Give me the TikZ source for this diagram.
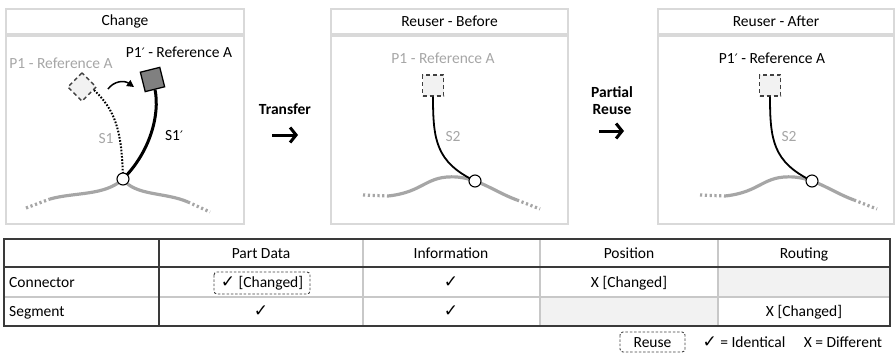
\documentclass[tikz,border=0pt]{standalone}
\usepackage{fontspec}
\setmainfont{Carlito}
\newfontfamily\symf{DejaVu Sans}
\usetikzlibrary{arrows.meta,calc}
\definecolor{pborder}{HTML}{D9D9D9}
\definecolor{gtext}{HTML}{A6A6A6}
\definecolor{roadc}{HTML}{A6A6A6}
\definecolor{lfill}{HTML}{F2F2F2}
\definecolor{dfill}{HTML}{808080}
\definecolor{tline}{HTML}{3A3A3A}
\definecolor{tin}{HTML}{C8C8C8}
\newcommand{\ckm}{{\symf\fontsize{17}{18}\selectfont ✓}}
\newcommand{\prm}{{\symf\fontsize{13}{15}\selectfont ′}}
\begin{document}
\begin{tikzpicture}[x=1pt,y=-1pt,font=\fontsize{15.5}{18}\selectfont,
  titlebox/.style={draw=pborder,line width=2pt,anchor=north west,inner sep=0pt,minimum height=25pt},
  bodybox/.style={draw=pborder,line width=2pt,anchor=north west,inner sep=0pt,minimum height=188pt},
  graytxt/.style={text=gtext,inner sep=0pt},
  blacktxt/.style={text=black,inner sep=0pt},
  roadline/.style={draw=roadc,line width=3.2pt},
  roaddots/.style={draw=roadc,line width=3.2pt,dash pattern=on 2.2pt off 2.6pt},
  oldpart/.style={draw=black!75,fill=lfill,line width=1.3pt,dash pattern=on 4pt off 3pt,minimum size=20pt,inner sep=0pt},
  newpart/.style={draw=black,fill=dfill,line width=1.3pt,minimum size=20pt,inner sep=0pt},
  junction/.style={circle,draw=black,fill=white,line width=1.1pt,minimum size=12pt,inner sep=0pt},
  wire/.style={draw=black,line width=1.8pt},
  bigarrow/.style={draw=black,line width=3pt,-{Straight Barb[length=6pt,width=15pt]}},
  cell/.style={inner sep=0pt,anchor=center},
  reusebox/.style={draw=black!75,line width=0.9pt,dash pattern=on 2.5pt off 1.8pt,rounded corners=3pt}
]
\useasboundingbox (0,0) rectangle (896,354);

% ---------------- Panel 1: Change ----------------
\node[titlebox,minimum width=238pt] (t1) at (5,8) {Change};
\node[bodybox,minimum width=238pt] (b1) at (t1.south west) {};

\coordinate (r1a) at (26,208);
\coordinate (r1b) at (50,199);
\coordinate (j1) at (123,179);
\coordinate (r1c) at (188,202);
\coordinate (r1d) at (210,212);
\draw[roaddots] (r1a) -- (r1b);
\draw[roadline] (r1b) .. controls (75,192) and (105,196) .. (j1) .. controls (135,196) and (165,192) .. (r1c);
\draw[roaddots] (r1c) -- (r1d);

\node[oldpart,rotate=45] (op1) at (82,87) {};
\node[newpart,rotate=14] (np1) at (152.5,79.5) {};

\draw[black,line width=2pt,dash pattern=on 1.6pt off 1.6pt] ($(op1.south)!0.6!(op1.south east)$) .. controls (115,110) and (122,130) .. (j1);
\draw[black,line width=3pt] (np1.south) .. controls (160,115) and (150,152) .. (j1);
\coordinate (ah) at (134,87);
\draw[black,line width=1.5pt,-{Triangle[length=7pt,width=7pt]}] (108,89) .. controls (114,81) and (124,80) .. (ah);

\node[junction] (c1) at (j1) {};

\node[graytxt] (l1a) at (61,63) {P1 - Reference A};
\node[blacktxt] (l1b) at (179,52) {P1\prm\ - Reference A};
\node[graytxt] (s1) at (106,139) {S1};
\node[blacktxt] (s1p) at (174,136) {S1\prm};

% ---------------- Transfer ----------------
\node[inner sep=0pt,font=\fontsize{15.5}{18}\selectfont\bfseries] (tr) at (285,109) {Transfer};
\coordinate (ta1) at (272,135);
\coordinate (ta2) at (298,135);
\draw[bigarrow] (ta1) -- (ta2);

% ---------------- Panel 2: Reuser - Before ----------------
\node[titlebox,minimum width=237pt] (t2) at (330,8) {Reuser - Before};
\node[bodybox,minimum width=237pt] (b2) at (t2.south west) {};

\coordinate (r2a) at (363,195);
\coordinate (r2b) at (388,196);
\coordinate (j2) at (475,181);
\coordinate (r2c) at (517,200);
\coordinate (r2d) at (540,209);
\draw[roaddots] (r2a) -- (r2b);
\draw[roadline] (r2b) .. controls (425,192) and (425,175) .. (457,177) .. controls (480,179) and (495,192) .. (r2c);
\draw[roaddots] (r2c) -- (r2d);

\node[oldpart,minimum size=21pt] (op2) at (433,85.5) {};
\draw[wire] (op2.south) .. controls (433,140) and (436,162) .. (j2);
\node[junction] (c2) at (j2) {};

\node[graytxt] (l2a) at (443,58) {P1 - Reference A};
\node[graytxt] (s2a) at (453,137) {S2};

% ---------------- Partial Reuse ----------------
\node[inner sep=0pt,font=\fontsize{15.5}{18}\selectfont\bfseries,align=center] (pr) at (612,101) {Partial\\[-1pt]Reuse};
\coordinate (pa1) at (599,131);
\coordinate (pa2) at (624,131);
\draw[bigarrow] (pa1) -- (pa2);

% ---------------- Panel 3: Reuser - After ----------------
\node[titlebox,minimum width=236pt] (t3) at (657,8) {Reuser - After};
\node[bodybox,minimum width=236pt] (b3) at (t3.south west) {};

\coordinate (r3a) at (700,195);
\coordinate (r3b) at (725,196);
\coordinate (j3) at (812,181);
\coordinate (r3c) at (854,200);
\coordinate (r3d) at (877,209);
\draw[roaddots] (r3a) -- (r3b);
\draw[roadline] (r3b) .. controls (762,192) and (762,175) .. (794,177) .. controls (817,179) and (832,192) .. (r3c);
\draw[roaddots] (r3c) -- (r3d);

\node[oldpart,minimum size=21pt] (op3) at (770,85.5) {};
\draw[wire] (op3.south) .. controls (770,140) and (773,162) .. (j3);
\node[junction] (c3) at (j3) {};

\node[blacktxt] (l3a) at (772,58) {P1\prm\ - Reference A};
\node[graytxt] (s3a) at (789,137) {S2};

% ---------------- Table ----------------
\fill[lfill] (718,267) rectangle (890,297);
\fill[lfill] (540,297) rectangle (718,326);
\draw[tin,line width=1.2pt] (4,297) -- (890,297);
\draw[tin,line width=1.2pt] (363,239) -- (363,326);
\draw[tin,line width=1.2pt] (540,239) -- (540,326);
\draw[tin,line width=1.2pt] (718,239) -- (718,326);
\draw[tline,line width=1.4pt] (4,267) -- (890,267);
\draw[tline,line width=1.4pt] (159,239) -- (159,326);
\draw[tline,line width=1.4pt] (4,239) rectangle (890,326);

\node[cell,anchor=base] (h1) at (261,258) {Part Data};
\node[cell,anchor=base] (h2) at (451,258) {Information};
\node[cell,anchor=base] (h3) at (629,258) {Position};
\node[cell,anchor=base] (h4) at (804,258) {Routing};

\node[cell,anchor=base west] (rc) at (9,287) {Connector};
\node[cell,anchor=base west] (rs) at (9,316) {Segment};

\draw[reusebox] (214,272) rectangle (310,294);
\node[cell,anchor=base] (c11) at (262,287) {\ckm\ [Changed]};
\node[cell,anchor=base] (c12) at (451,287) {\ckm};
\node[cell,anchor=base] (c13) at (629,287) {X [Changed]};
\node[cell,anchor=base] (c21) at (261,316) {\ckm};
\node[cell,anchor=base] (c22) at (451,316) {\ckm};
\node[cell,anchor=base] (c24) at (804,316) {X [Changed]};

% ---------------- Legend ----------------
\draw[reusebox] (620,332) rectangle (685,352);
\node[cell,anchor=base] (lg1) at (652.5,347) {Reuse};
\node[cell,anchor=base] (lg2) at (744,347) {\ckm\ = Identical};
\node[cell,anchor=base] (lg3) at (843,347) {X = Different};
\end{tikzpicture}
\end{document}
